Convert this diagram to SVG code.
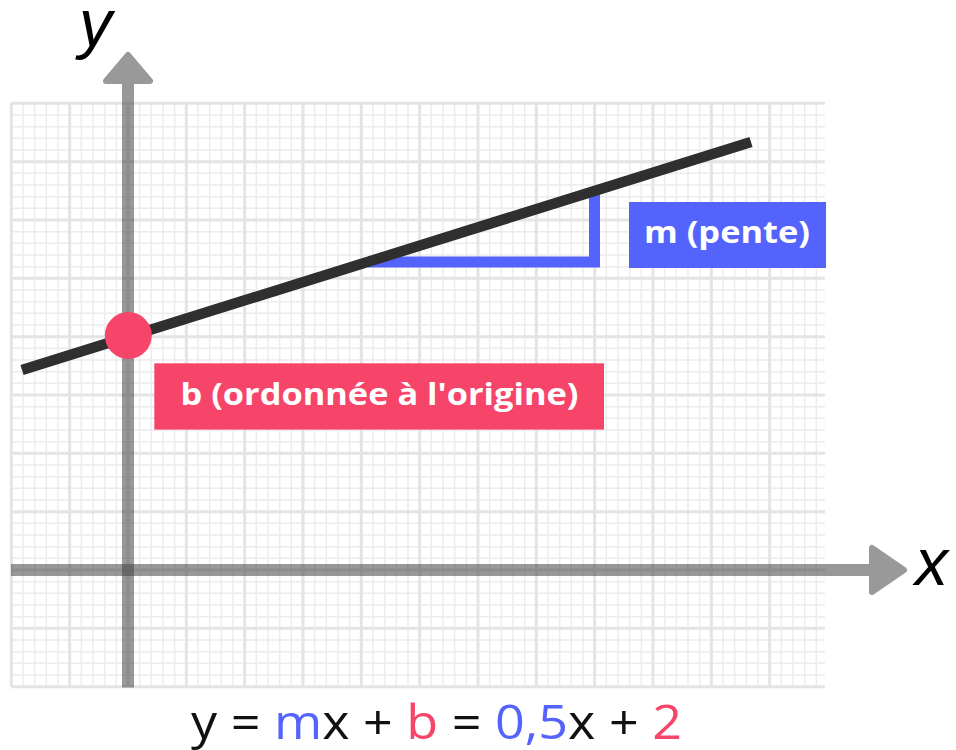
<svg xmlns="http://www.w3.org/2000/svg" width="956" height="750" viewBox="0 0 956 750">
  <style>
    .lbl { font-family: "Open Sans", "Noto Sans", "Liberation Sans", sans-serif; font-weight: 700; fill: #ffffff; text-anchor: middle; }
    .ax { font-family: "Liberation Sans", Arial, sans-serif; font-style: italic; fill: #000000; }
    .eq { font-family: "Open Sans", "Noto Sans", "Liberation Sans", sans-serif; font-weight: 400; fill: #111111; }
    .blue { fill: #5363FB; }
    .pink { fill: #F7456A; }
    .axis { stroke: #444444; stroke-opacity: 0.55; stroke-width: 12; fill: none; }
    .head { fill: #999999; stroke: #999999; stroke-width: 6; stroke-linejoin: round; }
  </style>
  <rect width="956" height="750" fill="#ffffff"/>

  <g id="grid">
    <line x1="10.58" y1="395" x2="825" y2="395" stroke="#ececec" stroke-width="583.33" stroke-dasharray="1.5 10.1667"/>
    <line x1="418.17" y1="102.58" x2="418.17" y2="687.5" stroke="#ececec" stroke-width="813.67" stroke-dasharray="1.5 10.1667"/>
    <line x1="9.83" y1="395" x2="825" y2="395" stroke="#e4e4e4" stroke-width="583.33" stroke-dasharray="3 55.333"/>
    <line x1="418.17" y1="101.83" x2="418.17" y2="688.5" stroke="#e4e4e4" stroke-width="813.67" stroke-dasharray="3 55.333"/>
  </g>

  <g id="axes">
    <path class="axis" d="M128 687.5 V83"/>
    <path class="axis" d="M11 570 H870"/>
    <path class="head" d="M128 55 L150 81 L106 81 Z"/>
    <path class="head" d="M904 570 L872 548 L872 592 Z"/>
    <text class="ax" x="79" y="46" font-size="66">y</text>
    <text class="ax" x="915" y="585" font-size="66">x</text>
  </g>

  <g id="slope-triangle">
    <path d="M368 262 H594.5 V188" fill="none" stroke="#5363FB" stroke-width="11"/>
  </g>

  <g id="line">
    <line x1="22" y1="370" x2="751" y2="142" stroke="#2f2f2f" stroke-width="10.5"/>
  </g>

  <g id="intercept">
    <circle cx="128.3" cy="335.5" r="23.5" fill="#F7456A"/>
  </g>

  <g id="label-m">
    <rect x="629" y="202" width="197" height="66" fill="#5363FB"/>
    <text class="lbl" x="727" y="243" font-size="30" textLength="166" lengthAdjust="spacingAndGlyphs">m (pente)</text>
  </g>

  <g id="label-b">
    <rect x="154.3" y="363.3" width="449.7" height="66.3" fill="#F7456A"/>
    <text class="lbl" x="379.5" y="405" font-size="31" textLength="398" lengthAdjust="spacingAndGlyphs">b (ordonnée à l'origine)</text>
  </g>

  <g id="equation">
    <text class="eq" x="191" y="739" font-size="48" textLength="491" lengthAdjust="spacingAndGlyphs">y = <tspan class="blue">m</tspan>x + <tspan class="pink">b</tspan> = <tspan class="blue">0,5</tspan>x + <tspan class="pink">2</tspan></text>
  </g>
</svg>
